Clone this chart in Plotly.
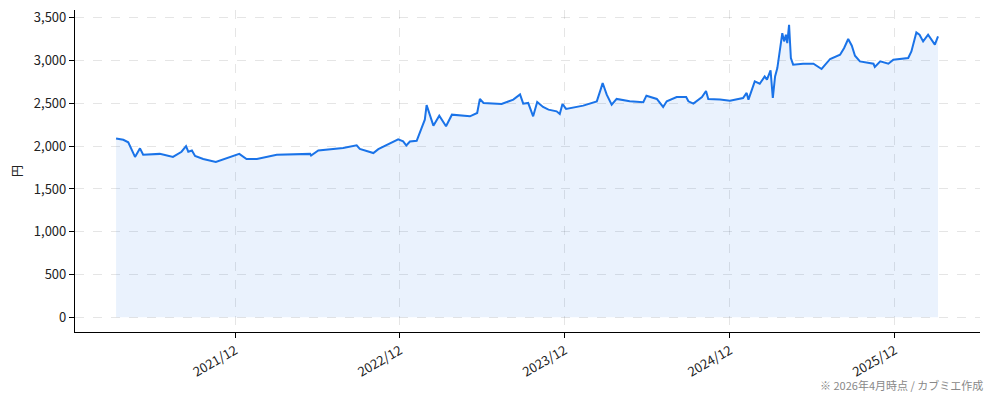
import plotly.graph_objects as go

dates = [
    "2021-03-12", "2021-03-28", "2021-04-08", "2021-04-23", "2021-05-04", "2021-05-11",
    "2021-06-17", "2021-07-16", "2021-08-04", "2021-08-14", "2021-08-19", "2021-08-27",
    "2021-09-03", "2021-09-21", "2021-10-19", "2021-11-08", "2021-12-10", "2021-12-26",
    "2022-01-18", "2022-03-03", "2022-05-16", "2022-05-18", "2022-06-03", "2022-07-28",
    "2022-08-27", "2022-09-03", "2022-10-03", "2022-10-14", "2022-11-02", "2022-11-27",
    "2022-12-08", "2022-12-15", "2022-12-23", "2023-01-07", "2023-01-18", "2023-01-25",
    "2023-01-29", "2023-02-04", "2023-02-13", "2023-02-26", "2023-03-13", "2023-03-26",
    "2023-05-05", "2023-05-21", "2023-05-27", "2023-06-04", "2023-07-14", "2023-08-09",
    "2023-08-24", "2023-08-31", "2023-09-11", "2023-09-22", "2023-10-01", "2023-10-14",
    "2023-10-26", "2023-11-13", "2023-11-20", "2023-11-26", "2023-12-04", "2024-01-11",
    "2024-02-10", "2024-02-19", "2024-02-23", "2024-03-03", "2024-03-14", "2024-03-25",
    "2024-04-23", "2024-05-23", "2024-05-30", "2024-06-22", "2024-07-06", "2024-07-14",
    "2024-08-05", "2024-08-26", "2024-08-31", "2024-09-11", "2024-09-30", "2024-10-09",
    "2024-10-14", "2024-11-09", "2024-12-01", "2024-12-30", "2025-01-07", "2025-01-11",
    "2025-01-18", "2025-01-25", "2025-02-05", "2025-02-16", "2025-02-21", "2025-03-01",
    "2025-03-06", "2025-03-11", "2025-03-16", "2025-03-22", "2025-03-27", "2025-03-31",
    "2025-04-04", "2025-04-07", "2025-04-11", "2025-04-15", "2025-04-20", "2025-05-12",
    "2025-06-04", "2025-06-22", "2025-07-11", "2025-08-02", "2025-08-11", "2025-08-20",
    "2025-08-28", "2025-09-04", "2025-09-15", "2025-10-15", "2025-10-18", "2025-10-30",
    "2025-11-17", "2025-11-28", "2025-12-31", "2026-01-07", "2026-01-18", "2026-01-25",
    "2026-02-02", "2026-02-13", "2026-02-20", "2026-02-28", "2026-03-07",
]
prices = [
    2090, 2075, 2045, 1875, 1975, 1900,
    1910, 1875, 1935, 2000, 1935, 1950,
    1885, 1850, 1815, 1850, 1910, 1850,
    1850, 1900, 1910, 1890, 1950, 1980,
    2010, 1968, 1920, 1965, 2018, 2080,
    2057, 2008, 2055, 2062, 2213, 2310,
    2480, 2388, 2240, 2357, 2232, 2368,
    2349, 2388, 2552, 2505, 2493, 2544,
    2605, 2497, 2505, 2349, 2517, 2458,
    2427, 2407, 2377, 2493, 2435, 2474,
    2524, 2669, 2738, 2602, 2485, 2552,
    2524, 2513, 2590, 2552, 2458, 2524,
    2575, 2575, 2524, 2497, 2575, 2645,
    2552, 2544, 2532, 2563, 2622, 2544,
    2641, 2757, 2730, 2815, 2777, 2885,
    2563, 2815, 2913, 3165, 3321, 3224,
    3302, 3205, 3418, 3030, 2952, 2963,
    2963, 2902, 3019, 3069, 3147, 3252,
    3174, 3057, 2991, 2963, 2925, 2991,
    2963, 3010, 3030, 3107, 3329, 3302,
    3224, 3302, 3244, 3186, 3283,
]

tick_dates = ["2021-12-01", "2022-12-01", "2023-12-01", "2024-12-01", "2025-12-01"]
tick_labels = ["2021/12", "2022/12", "2023/12", "2024/12", "2025/12"]
y_ticks = [0, 500, 1000, 1500, 2000, 2500, 3000, 3500]
y_title = "円"
footnote = "※ 2026年4月時点 / カブミエ作成"

LINE = "#1a73e8"
FONT = "Noto Sans CJK JP"

fig = go.Figure()
fig.add_trace(go.Scatter(
    x=dates, y=prices, mode="lines",
    line=dict(color=LINE, width=2),
    fill="tozeroy", fillcolor="rgba(26,115,232,0.09)",
    hoverinfo="skip", showlegend=False,
))

grid = dict(showgrid=True, gridcolor="rgba(0,0,0,0.10)", griddash="dash", gridwidth=1)

fig.update_layout(
    width=986, height=393,
    margin=dict(l=67, r=14, t=2, b=69),
    paper_bgcolor="white", plot_bgcolor="white",
    font=dict(family=FONT, size=13, color="#222"),
    xaxis=dict(
        type="date", range=["2020-12-11", "2026-06-08"],
        tickvals=tick_dates, ticktext=tick_labels, tickangle=-30,
        ticks="outside", ticklen=5, tickcolor="black",
        showline=True, linecolor="black", linewidth=1.2,
        zeroline=False, tickfont=dict(size=13, color="#222"),
        automargin=False, ticklabeloverflow="allow",
        **grid,
    ),
    yaxis=dict(
        range=[-171, 3591], tickvals=y_ticks, tickformat=",d",
        ticks="outside", ticklen=5, tickcolor="black",
        showline=True, linecolor="black", linewidth=1.2,
        zeroline=False, tickfont=dict(size=13, color="#222"),
        title=dict(text=y_title, font=dict(size=12, color="#222"), standoff=10),
        automargin=False, ticklabeloverflow="allow",
        **grid,
    ),
    annotations=[dict(
        text=footnote, xref="paper", yref="paper", x=1.0055, y=-0.1646,
        xanchor="right", yanchor="middle", showarrow=False,
        font=dict(size=11, color="#888", family=FONT),
    )],
)

fig.write_html("out.html")
